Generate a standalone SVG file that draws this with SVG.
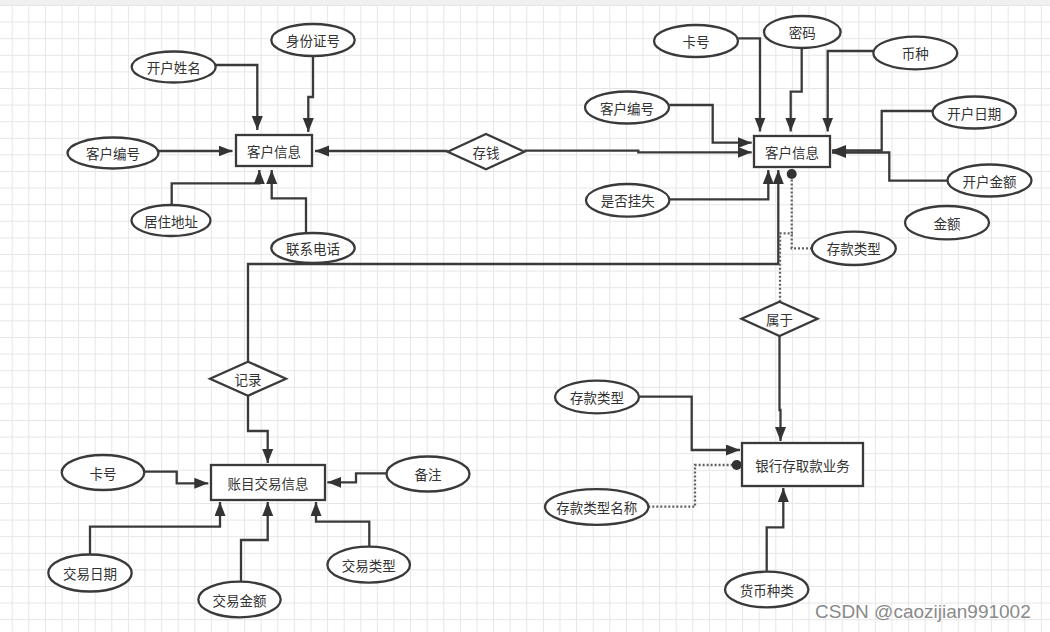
<svg xmlns="http://www.w3.org/2000/svg" width="1050" height="632" viewBox="0 0 1050 632">
<style>
.n ellipse,.n rect,.n polygon{fill:#fff;stroke:#3a3a3a;stroke-width:2.3}
.n text{font-family:"Noto Sans CJK SC","Liberation Sans",sans-serif;font-size:13.5px;fill:#333;text-anchor:middle;dominant-baseline:central}
.c path{fill:none;stroke:#3a3a3a;stroke-width:2.3}
.c path.a{marker-end:url(#arr)}
.c path.d{stroke:#606060;stroke-dasharray:2 2}
.c path.dot{marker-end:url(#dot)}
.wm{font-family:"Liberation Sans",Arial,sans-serif;font-size:19px;fill:#8a8a8a}
</style>
<defs>
<pattern id="grid" patternUnits="userSpaceOnUse" x="11.7" y="5" width="16.6" height="16.6">
<path d="M0,0.5 H16.6 M0.5,0 V16.6" fill="none" stroke="#e6e6e6" stroke-width="1"/>
</pattern>
<marker id="arr" markerUnits="userSpaceOnUse" markerWidth="16" markerHeight="12" refX="14" refY="5.5" orient="auto">
<path d="M0,0 L14,5.5 L0,11 z" fill="#333"/>
</marker>
<marker id="dot" markerUnits="userSpaceOnUse" markerWidth="12" markerHeight="12" refX="6" refY="6" orient="auto">
<circle cx="6" cy="6" r="5" fill="#333"/>
</marker>
</defs>
<rect width="1050" height="632" fill="#fff"/>
<rect width="1050" height="632" fill="url(#grid)"/>
<rect width="1050" height="5" fill="#f0f0f0"/>

<g id="connectors" class="c">
<path class="a" d="M215.7,65 H257.3 V130"/>
<path class="a" d="M313,56 V97 H308.3 V132"/>
<path class="a" d="M158.3,151 H232.5"/>
<path class="a" d="M171.7,205 V183.3 H259.3 V170"/>
<path class="a" d="M306,232.7 V198.3 H271.7 V170"/>
<path class="a" d="M447.7,151 H315"/>
<path class="a" d="M524.3,150.7 H638.3 V152.3 H751.7"/>
<path class="a" d="M738.3,38.3 H760 V131.5"/>
<path class="a" d="M801.7,47.7 V91.7 H790.7 V131.5"/>
<path class="a" d="M873.3,51 H827.7 V131.5"/>
<path class="a" d="M669.3,105 H712.7 V142.7 H751.7"/>
<path class="a" d="M932.7,111 H881.7 V150.5 H832"/>
<path class="a" d="M947.3,180.7 H889.3 V152.5 H832"/>
<path class="a" d="M669.3,199.3 H768.3 V170"/>
<path class="a" d="M248,361.7 V264 H778.3 V170"/>
<path class="a" d="M248,395.7 V431 H267.7 V463"/>
<path class="d dot" d="M780,301.7 V233.3 H791.7 V174"/>
<path class="d" d="M812,248.3 H791.7 V233.3"/>
<path class="a" d="M779.5,336 V410 H780.5 V441"/>
<path class="a" d="M144.3,471.7 H176.7 V483.3 H208.3"/>
<path class="a" d="M386.7,473.3 H356 V482.3 H327.3"/>
<path class="a" d="M90,554 V526.7 H220 V502"/>
<path class="a" d="M241,581.7 V540 H267.7 V502"/>
<path class="a" d="M369.3,546.7 V521.7 H316 V502"/>
<path class="a" d="M639.3,396.7 H691.7 V450 H740"/>
<path class="d dot" d="M648.3,506.7 H695 V465 H736.7"/>
<path class="a" d="M766.7,571.7 V527.3 H783.3 V488"/>
</g>

<g id="cust_left" class="n"><rect x="236" y="135" width="76" height="31"/><text x="274" y="151">客户信息</text></g>
<g id="attr_kaihuxingming" class="n"><ellipse cx="173.7" cy="67" rx="42" ry="15.5"/><text x="173.7" y="67">开户姓名</text></g>
<g id="attr_shenfenzheng" class="n"><ellipse cx="313" cy="40" rx="41.7" ry="16"/><text x="313" y="40">身份证号</text></g>
<g id="attr_kehubianhao_l" class="n"><ellipse cx="113" cy="153" rx="45.5" ry="15.5"/><text x="113" y="153">客户编号</text></g>
<g id="attr_juzhudizhi" class="n"><ellipse cx="171" cy="220.5" rx="39.5" ry="15.5"/><text x="171" y="220.5">居住地址</text></g>
<g id="attr_lianxidianhua" class="n"><ellipse cx="313" cy="248" rx="41.7" ry="15"/><text x="313" y="248">联系电话</text></g>

<g id="rel_cunqian" class="n"><polygon points="447.7,151.7 486,134 524.3,151.7 486,169.3"/><text x="486" y="151.7">存钱</text></g>

<g id="cust_right" class="n"><rect x="754" y="136" width="76" height="31"/><text x="792" y="152">客户信息</text></g>
<g id="attr_kahao_r" class="n"><ellipse cx="696" cy="41" rx="42" ry="16"/><text x="696" y="41">卡号</text></g>
<g id="attr_mima" class="n"><ellipse cx="802.3" cy="32" rx="38.3" ry="16"/><text x="802.3" y="32">密码</text></g>
<g id="attr_bizhong" class="n"><ellipse cx="915.3" cy="53" rx="42" ry="16.3"/><text x="915.3" y="53">币种</text></g>
<g id="attr_kehubianhao_r" class="n"><ellipse cx="627" cy="107.5" rx="42" ry="16"/><text x="627" y="107.5">客户编号</text></g>
<g id="attr_kaihuriqi" class="n"><ellipse cx="974.3" cy="112.5" rx="41.7" ry="16"/><text x="974.3" y="112.5">开户日期</text></g>
<g id="attr_kaihujine" class="n"><ellipse cx="989.5" cy="180.5" rx="42" ry="16"/><text x="989.5" y="180.5">开户金额</text></g>
<g id="attr_shifouguashi" class="n"><ellipse cx="627.7" cy="200.3" rx="41.7" ry="16.3"/><text x="627.7" y="200.3">是否挂失</text></g>
<g id="attr_jine" class="n"><ellipse cx="947" cy="222.7" rx="42" ry="16.7"/><text x="947" y="222.7">金额</text></g>
<g id="attr_cunkuanleixing_r" class="n"><ellipse cx="853.8" cy="248.3" rx="42" ry="16.7"/><text x="853.8" y="248.3">存款类型</text></g>

<g id="rel_jilu" class="n"><polygon points="210,378.7 248,361.7 286,378.7 248,395.7"/><text x="248" y="378.7">记录</text></g>
<g id="rel_shuyu" class="n"><polygon points="741.5,318.8 779.5,301.7 817.5,318.8 779.5,336"/><text x="779.5" y="318.8">属于</text></g>

<g id="trans" class="n"><rect x="211" y="465" width="114" height="35"/><text x="268" y="482.5">账目交易信息</text></g>
<g id="attr_kahao_t" class="n"><ellipse cx="103" cy="472.5" rx="41.3" ry="17.5"/><text x="103" y="472.5">卡号</text></g>
<g id="attr_beizhu" class="n"><ellipse cx="428" cy="474" rx="41.5" ry="17.5"/><text x="428" y="474">备注</text></g>
<g id="attr_jiaoyiriqi" class="n"><ellipse cx="90" cy="573" rx="41.7" ry="18.5"/><text x="90" y="573">交易日期</text></g>
<g id="attr_jiaoyijine" class="n"><ellipse cx="239.5" cy="599.5" rx="41.2" ry="17.8"/><text x="239.5" y="599.5">交易金额</text></g>
<g id="attr_jiaoyileixing" class="n"><ellipse cx="368.7" cy="564.7" rx="41.3" ry="18"/><text x="368.7" y="564.7">交易类型</text></g>

<g id="bank" class="n"><rect x="742" y="443" width="121" height="43"/><text x="802.5" y="464.5">银行存取款业务</text></g>
<g id="attr_cunkuanleixing_b" class="n"><ellipse cx="597" cy="397" rx="42" ry="16.3"/><text x="597" y="397">存款类型</text></g>
<g id="attr_cunkuanleixingmingcheng" class="n"><ellipse cx="596.7" cy="507" rx="51.7" ry="17.8"/><text x="596.7" y="507">存款类型名称</text></g>
<g id="attr_huobizhonglei" class="n"><ellipse cx="766.7" cy="589.5" rx="41.7" ry="17.8"/><text x="766.7" y="589.5">货币种类</text></g>

<text class="wm" x="815" y="618">CSDN @caozijian991002</text>
</svg>
